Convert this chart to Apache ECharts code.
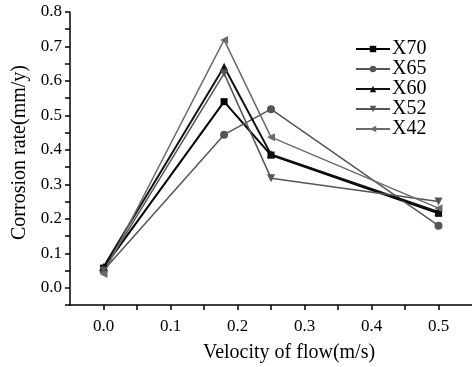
<!DOCTYPE html>
<html>
<head>
<meta charset="utf-8">
<script src="https://cdn.jsdelivr.net/npm/echarts@6/dist/echarts.min.js"></script>
<style>
  html, body { margin: 0; padding: 0; background: #fff; }
  #chart { width: 472px; height: 367px; }
</style>
</head>
<body>
<div id="chart"></div>
<script>
// velocity of flow (m/s)
var velocity = [0.0, 0.18, 0.25, 0.5];

// corrosion rate (mm/y) per steel grade
var x70 = [0.057, 0.540, 0.385, 0.216];
var x65 = [0.050, 0.444, 0.518, 0.180];
var x60 = [0.060, 0.641, 0.387, 0.220];
var x52 = [0.050, 0.622, 0.318, 0.250];
var x42 = [0.040, 0.719, 0.437, 0.231];

var seriesNames = ['X70', 'X65', 'X60', 'X52', 'X42'];
var seriesValues = [x70, x65, x60, x52, x42];
var symbols = ['rect', 'circle', 'triangle', 'path://M0,0 L10,0 L5,9 Z', 'path://M0,5 L9,0 L9,10 Z'];
var colors = ['#000000', '#555555', '#111111', '#555555', '#6a6a6a'];

var font = 'Liberation Serif';

function pairs(vals) {
    var out = [];
    for (var i = 0; i < velocity.length; i++) out.push([velocity[i], vals[i]]);
    return out;
}

var series = [];
for (var i = 0; i < seriesNames.length; i++) {
    series.push({
        name: seriesNames[i],
        type: 'line',
        data: pairs(seriesValues[i]),
        symbol: symbols[i],
        symbolSize: i === 0 ? 7 : 8,
        itemStyle: { color: colors[i] },
        lineStyle: { color: colors[i], width: i === 0 || i === 2 ? 2 : 1.5 },
        animation: false
    });
}

// show labels only on 0.1 steps, ticks every 0.05
function tenths(v) {
    var r = Math.round(v * 100);
    if (r < 0 || r % 10 !== 0) return '';
    return (r / 100).toFixed(1);
}

var myChart = echarts.init(document.getElementById('chart'));
var option = {
    color: colors,
    grid: { left: 70, right: 0, top: 12, bottom: 62, outerBoundsMode: 'none' },
    legend: {
        orient: 'vertical',
        left: 350,
        top: 34,
        itemWidth: 34,
        itemHeight: 8,
        itemGap: 0,
        textStyle: { fontFamily: font, fontSize: 20, lineHeight: 18, color: '#000', padding: [0, 0, 0, -3] },
        data: seriesNames
    },
    xAxis: {
        type: 'value',
        min: -0.05,
        max: 0.55,
        interval: 0.05,
        name: 'Velocity of flow(m/s)',
        nameLocation: 'middle',
        nameGap: 38,
        nameTextStyle: { fontFamily: font, fontSize: 20, color: '#000', padding: [0, 0, 0, 36] },
        axisLine: { onZero: false, lineStyle: { color: '#000', width: 1.5 } },
        axisTick: { inside: false, length: 5, lineStyle: { color: '#000', width: 1.5 } },
        axisLabel: { formatter: tenths, fontFamily: font, fontSize: 17, color: '#000', margin: 13, showMaxLabel: false, showMinLabel: false },
        splitLine: { show: false }
    },
    yAxis: {
        type: 'value',
        min: -0.05,
        max: 0.8,
        interval: 0.05,
        name: 'Corrosion rate(mm/y)',
        nameLocation: 'middle',
        nameGap: 34,
        nameTextStyle: { fontFamily: font, fontSize: 20, color: '#000', padding: [0, 0, 0, 12] },
        axisLine: { show: true, onZero: false, lineStyle: { color: '#000', width: 1.5 } },
        axisTick: { show: true, inside: false, length: 5, lineStyle: { color: '#000', width: 1.5 } },
        axisLabel: { formatter: tenths, fontFamily: font, fontSize: 17, color: '#000', margin: 8 },
        splitLine: { show: false }
    },
    series: series
};
myChart.setOption(option);
</script>
</body>
</html>
